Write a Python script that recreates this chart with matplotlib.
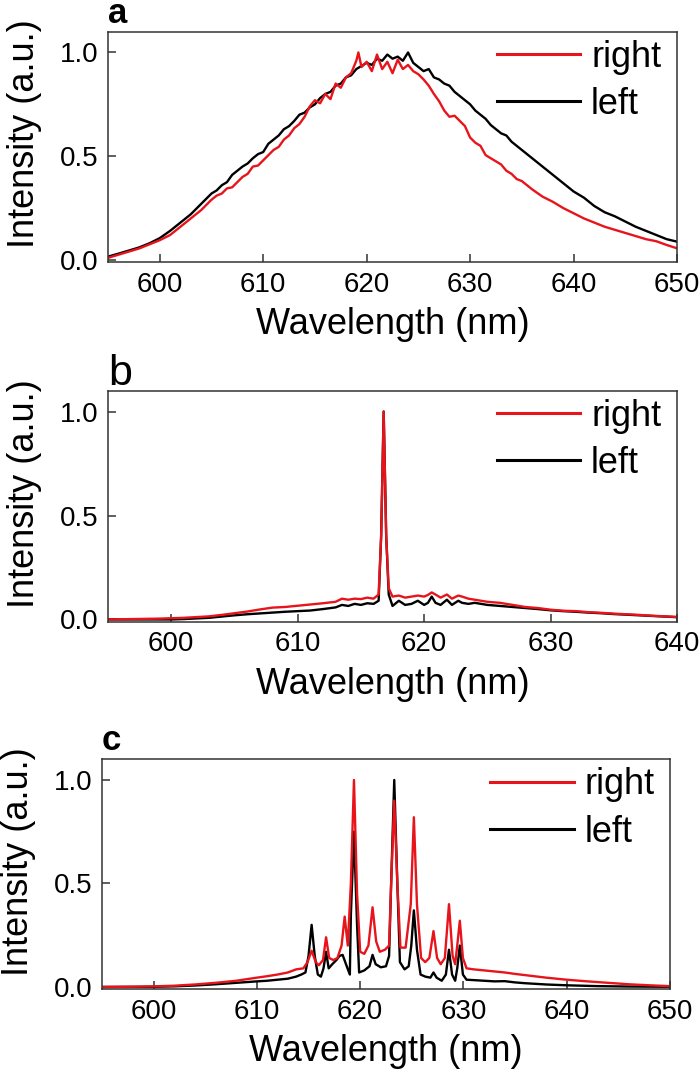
import numpy as np
import matplotlib
matplotlib.use('Agg')
import matplotlib.pyplot as plt

plt.rcParams['font.family'] = ['Liberation Sans', 'DejaVu Sans']

red = '#e8141c'

# ---- panel a : broad emission
wl_a_right = [595, 596, 597, 598, 599, 600, 601, 602, 603, 604,
              605, 605.5, 606, 606.5, 607, 607.5, 608, 608.5, 609, 609.5,
              610, 610.5, 611, 611.5, 612, 612.5, 613, 613.5, 614, 614.5,
              615, 615.5, 616, 616.5, 617, 617.5, 618, 618.5, 619, 619.2,
              619.5, 620, 620.5, 621, 621.5, 622, 622.5, 623, 623.5, 624,
              624.5, 625, 625.5, 626, 626.5, 627, 627.5, 628, 628.5, 629,
              629.5, 630, 630.5, 631, 631.5, 632, 632.5, 633, 633.5, 634,
              634.5, 635, 636, 637, 638, 639, 640, 641, 642, 643,
              644, 645, 646, 647, 648, 649, 650]
int_a_right = [0.01, 0.025, 0.04, 0.055, 0.075, 0.095, 0.12, 0.16, 0.2, 0.24,
               0.29, 0.31, 0.32, 0.345, 0.35, 0.375, 0.4, 0.415, 0.45, 0.455,
               0.48, 0.505, 0.53, 0.545, 0.58, 0.6, 0.635, 0.655, 0.69, 0.74,
               0.77, 0.755, 0.8, 0.775, 0.85, 0.83, 0.88, 0.9, 0.96, 1.0,
               0.93, 0.955, 0.91, 0.99, 0.92, 0.955, 0.9, 0.965, 0.92, 0.94,
               0.91, 0.895, 0.87, 0.84, 0.8, 0.765, 0.72, 0.69, 0.695, 0.67,
               0.645, 0.59, 0.565, 0.55, 0.505, 0.49, 0.475, 0.46, 0.43, 0.415,
               0.39, 0.38, 0.34, 0.305, 0.28, 0.25, 0.225, 0.2, 0.18, 0.16,
               0.145, 0.13, 0.115, 0.1, 0.09, 0.072, 0.056]

wl_a_left = [595, 596, 597, 598, 599, 600, 601, 602, 603, 604,
             605, 605.5, 606, 606.5, 607, 607.5, 608, 608.5, 609, 609.5,
             610, 610.5, 611, 611.5, 612, 612.5, 613, 613.5, 614, 614.5,
             615, 615.5, 616, 616.5, 617, 617.5, 618, 618.5, 619, 619.5,
             620, 620.5, 621, 621.5, 622, 622.5, 623, 623.5, 624, 624.5,
             625, 625.5, 626, 626.5, 627, 627.5, 628, 628.5, 629, 629.5,
             630, 630.5, 631, 631.5, 632, 632.5, 633, 633.5, 634, 634.5,
             635, 636, 637, 638, 639, 640, 641, 642, 643, 644,
             645, 646, 647, 648, 649, 650]
int_a_left = [0.016, 0.03, 0.045, 0.06, 0.08, 0.105, 0.14, 0.18, 0.22, 0.27,
              0.32, 0.335, 0.36, 0.375, 0.41, 0.43, 0.45, 0.465, 0.49, 0.51,
              0.52, 0.56, 0.58, 0.6, 0.63, 0.645, 0.67, 0.7, 0.71, 0.735,
              0.75, 0.78, 0.8, 0.81, 0.84, 0.85, 0.88, 0.89, 0.92, 0.935,
              0.95, 0.94, 0.97, 0.96, 0.99, 0.97, 0.98, 0.96, 1.0, 0.95,
              0.93, 0.91, 0.92, 0.88, 0.87, 0.85, 0.84, 0.81, 0.79, 0.77,
              0.75, 0.72, 0.7, 0.68, 0.65, 0.63, 0.61, 0.6, 0.57, 0.55,
              0.53, 0.49, 0.45, 0.41, 0.37, 0.33, 0.3, 0.26, 0.23, 0.21,
              0.185, 0.16, 0.14, 0.12, 0.1, 0.088]

# ---- panel b : single lasing line
wl_b_right = [595, 597, 599, 601, 603, 604, 605, 606, 607, 608,
              609, 610, 611, 612, 613, 613.5, 614, 614.5, 615, 615.5,
              616, 616.4, 616.6, 616.8, 617.0, 617.2, 617.5, 618, 618.5, 619,
              619.5, 620, 620.3, 620.6, 620.9, 621.3, 621.8, 622.2, 622.7, 623,
              623.5, 624, 624.5, 625, 626, 627, 628, 629, 630, 631,
              632, 633, 634, 635, 636, 637, 638, 639, 640]
int_b_right = [0.0, 0.002, 0.004, 0.008, 0.015, 0.022, 0.03, 0.038, 0.048, 0.057,
               0.06, 0.066, 0.072, 0.078, 0.085, 0.1, 0.095, 0.1, 0.098, 0.105,
               0.1, 0.12, 0.4, 1.0, 0.4, 0.15, 0.11, 0.115, 0.105, 0.11,
               0.115, 0.11, 0.118, 0.13, 0.12, 0.105, 0.12, 0.1, 0.115, 0.11,
               0.1, 0.095, 0.09, 0.085, 0.08, 0.07, 0.06, 0.055, 0.047, 0.042,
               0.04, 0.035, 0.032, 0.028, 0.025, 0.022, 0.018, 0.015, 0.012]

wl_b_left = [595, 600, 601, 602, 603, 604, 605, 606, 607, 608,
             609, 610, 611, 612, 613, 613.5, 614, 614.5, 615, 615.5,
             616, 616.4, 616.6, 616.8, 617.0, 617.2, 617.5, 618, 618.5, 619,
             619.5, 620, 620.3, 620.6, 620.9, 621.3, 621.8, 622.2, 622.7, 623,
             623.5, 624, 624.5, 625, 626, 627, 628, 629, 630, 631,
             632, 633, 634, 635, 636, 637, 638, 639, 640]
int_b_left = [0.0, 0.0, 0.002, 0.005, 0.008, 0.014, 0.02, 0.025, 0.029, 0.033,
              0.037, 0.04, 0.043, 0.05, 0.058, 0.07, 0.065, 0.075, 0.07, 0.078,
              0.075, 0.09, 0.4, 1.0, 0.4, 0.12, 0.065, 0.09, 0.07, 0.075,
              0.09, 0.07, 0.08, 0.11, 0.08, 0.07, 0.095, 0.07, 0.09, 0.08,
              0.075, 0.08, 0.075, 0.07, 0.065, 0.06, 0.055, 0.05, 0.044, 0.04,
              0.037, 0.033, 0.03, 0.026, 0.023, 0.02, 0.017, 0.014, 0.011]

# ---- panel c : multimode lasing
wl_c_right = [595, 598, 600, 602, 604, 606, 608, 610, 611, 612,
              613, 613.8, 614.5, 614.9, 615.3, 615.7, 616.0, 616.4, 616.7, 617.0,
              617.4, 617.8, 618.2, 618.5, 618.8, 619.1, 619.4, 619.7, 620.0, 620.4,
              620.8, 621.2, 621.55, 621.9, 622.4, 622.8, 623.0, 623.3, 623.6, 623.9,
              624.4, 624.9, 625.2, 625.5, 625.9, 626.3, 626.7, 627.1, 627.45, 627.8,
              628.2, 628.6, 628.95, 629.2, 629.4, 629.65, 629.95, 630.3, 631, 632,
              633, 634, 635, 636, 638, 640, 642, 644, 646, 648,
              650]
int_c_right = [0.0, 0.001, 0.003, 0.006, 0.012, 0.02, 0.03, 0.045, 0.052, 0.06,
               0.07, 0.085, 0.09, 0.12, 0.175, 0.12, 0.105, 0.13, 0.24, 0.14,
               0.13, 0.14, 0.2, 0.34, 0.2, 0.5, 1.0, 0.45, 0.17, 0.16,
               0.2, 0.385, 0.22, 0.17, 0.18, 0.2, 0.5, 0.9, 0.5, 0.19,
               0.19, 0.4, 0.82, 0.4, 0.14, 0.12, 0.14, 0.27, 0.14, 0.11,
               0.14, 0.4, 0.15, 0.11, 0.2, 0.32, 0.14, 0.09, 0.085, 0.08,
               0.075, 0.07, 0.063, 0.057, 0.045, 0.035, 0.027, 0.02, 0.013, 0.008,
               0.004]

wl_c_left = [595, 600, 602, 604, 606, 608, 610, 611, 612, 613,
             613.8, 614.3, 614.7, 615.0, 615.3, 615.6, 615.9, 616.2, 616.45, 616.7,
             616.95, 617.3, 617.7, 618.0, 618.3, 618.7, 619.0, 619.1, 619.4, 619.7,
             619.9, 620.4, 620.9, 621.2, 621.5, 622.0, 622.5, 622.8, 623.0, 623.3,
             623.6, 623.85, 624.3, 624.7, 624.95, 625.2, 625.5, 625.85, 626.3, 626.8,
             627.1, 627.4, 627.9, 628.3, 628.6, 628.9, 629.2, 629.4, 629.65, 629.95,
             630.3, 631, 632, 633, 634, 635, 636, 638, 640, 643,
             646, 650]
int_c_left = [0.0, 0.001, 0.003, 0.007, 0.013, 0.02, 0.027, 0.03, 0.035, 0.04,
              0.05, 0.06, 0.07, 0.15, 0.3, 0.15, 0.06, 0.05, 0.09, 0.17,
              0.09, 0.11, 0.13, 0.15, 0.155, 0.1, 0.06, 0.35, 0.75, 0.3,
              0.07, 0.08, 0.1, 0.155, 0.11, 0.095, 0.1, 0.15, 0.5, 1.0,
              0.5, 0.12, 0.085, 0.1, 0.2, 0.37, 0.18, 0.06, 0.05, 0.045,
              0.07, 0.045, 0.03, 0.06, 0.18, 0.06, 0.03, 0.09, 0.2, 0.06,
              0.035, 0.033, 0.03, 0.027, 0.028, 0.022, 0.018, 0.012, 0.008, 0.004,
              0.002, 0.001]

xticks_a = [600, 610, 620, 630, 640, 650]
xticks_b = [600, 610, 620, 630, 640]
yticks = [0.0, 0.5, 1.0]


def panel(ax, wl_r, i_r, wl_l, i_l, xlim, xticks, letter, letter_y, letter_kw):
    ax.plot(wl_l, i_l, color='black', lw=1.7)
    ax.plot(wl_r, i_r, color=red, lw=1.7)
    ax.set_xlim(xlim)
    ax.set_ylim(-0.01, 1.1)
    ax.set_xticks(xticks)
    ax.set_yticks(yticks)
    ax.set_yticklabels(['0.0', '0.5', '1.0'])
    ax.tick_params(direction='in', length=6, width=1.1, labelsize=20,
                   top=False, right=False, pad=7, color='#333333')
    for s in ax.spines.values():
        s.set_linewidth(1.1)
        s.set_color('#333333')
    ax.set_xlabel('Wavelength (nm)', fontsize=26, labelpad=7)
    ax.set_ylabel('Intensity (a.u.)', fontsize=26)
    ax.yaxis.set_label_coords(-0.116, 0.556)
    h_r, = ax.plot([], [], color=red, lw=2.2)
    h_l, = ax.plot([], [], color='black', lw=2.2)
    ax.legend([h_r, h_l], ['right', 'left'], loc='upper left',
              bbox_to_anchor=(0.684, 0.965), frameon=False, fontsize=26,
              borderpad=0, borderaxespad=0, handlelength=2.3,
              handletextpad=0.3, labelspacing=0.34)
    ax.text(0.0, letter_y, letter, transform=ax.transAxes, ha='left',
            va='baseline', **letter_kw)


fig = plt.figure(figsize=(7, 10.72), dpi=100)
ax_a = fig.add_axes([0.1543, 0.7556, 0.8129, 0.2148])
ax_b = fig.add_axes([0.1543, 0.4202, 0.8129, 0.2153])
ax_c = fig.add_axes([0.1457, 0.0774, 0.8114, 0.2143])

panel(ax_a, wl_a_right, int_a_right, wl_a_left, int_a_left, (595, 650),
      xticks_a, 'a', 1.038, dict(fontsize=25, fontweight='bold'))
panel(ax_b, wl_b_right, int_b_right, wl_b_left, int_b_left, (595, 640),
      xticks_b, 'b', 1.025, dict(fontsize=31))
panel(ax_c, wl_c_right, int_c_right, wl_c_left, int_c_left, (595, 650),
      xticks_a, 'c', 1.039, dict(fontsize=25, fontweight='bold'))

plt.savefig('out.png', dpi=100)
plt.close()
